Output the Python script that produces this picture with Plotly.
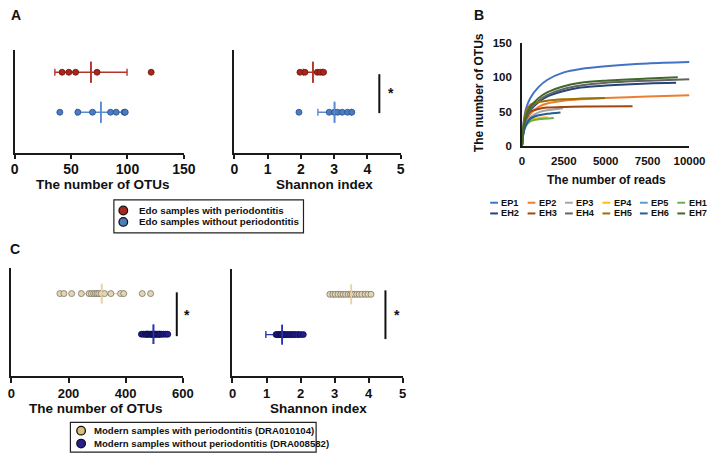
import plotly.graph_objects as go

W, H = 723, 460

# ---------------- data ----------------
groups_A = ["Edo samples with periodontitis", "Edo samples without periodontitis"]
groups_C = ["Modern samples with periodontitis (DRA010104)",
            "Modern samples without periodontitis (DRA008582)"]
cats = ["without", "with"]

# Panel A: number of OTUs
otu_A_with = [42, 48, 54, 73, 121]
otu_A_without = [40, 56, 69, 85, 90, 97, 98]
otu_A_mean = [67.6, 76.4]      # with, without
otu_A_sd = [32, 21.5]
# Panel A: Shannon index
shan_A_with = [1.97, 2.12, 2.49, 2.58, 2.68]
shan_A_without = [1.94, 2.85, 3.0, 3.1, 3.24, 3.4, 3.53]
shan_A_mean = [2.36, 3.01]
shan_A_sd = [0.29, 0.5]

# Panel C: number of OTUs
otu_C_with = [170, 184, 211, 245, 272, 280, 288, 294, 300, 306, 314, 326, 348, 382, 393, 458, 487]
otu_C_without = [455, 462, 468, 472, 476, 480, 484, 488, 490, 493, 496, 499, 502, 505, 508,
                 512, 516, 520, 526, 532, 540, 547]
otu_C_mean = [316, 497]
otu_C_sd = [75, 22]
# Panel C: Shannon index
shan_C_with = [2.86, 2.95, 3.02, 3.1, 3.18, 3.25, 3.32, 3.4, 3.47, 3.52, 3.58, 3.65, 3.72,
               3.8, 3.9, 3.98, 4.07]
shan_C_without = [1.28, 1.32, 1.36, 1.4, 1.43, 1.45, 1.48, 1.5, 1.55, 1.6, 1.65, 1.7, 1.75,
                  1.8, 1.85, 1.92, 2.0, 2.08]
shan_C_mean = [3.49, 1.46]
shan_C_sd = [0.35, 0.48]

# Panel B: rarefaction curves (reads, OTUs)
samples_B = ["EP1", "EP2", "EP3", "EP4", "EP5", "EH1", "EH2", "EH3", "EH4", "EH5", "EH6", "EH7"]
colors_B = ["#4472C4", "#ED7D31", "#A5A5A5", "#FFC000", "#5B9BD5", "#70AD47",
            "#264478", "#9E480E", "#636363", "#997300", "#255E91", "#43682B"]
reads_B = {
    "EP1": [0, 100, 250, 500, 1000, 1500, 2500, 3500, 5000, 7500, 10000],
    "EP2": [0, 100, 250, 500, 1000, 1500, 2500, 3500, 5000, 7500, 10000],
    "EP3": [0, 100, 250, 500, 1000, 1500, 2450],
    "EP4": [0, 100, 250, 500, 1000, 1550],
    "EP5": [0, 100, 250, 500, 900],
    "EH1": [0, 100, 250, 500, 1000, 1900],
    "EH2": [0, 100, 250, 500, 1000, 1500, 2500, 3500, 5000, 7500, 9200],
    "EH3": [0, 100, 250, 500, 1000, 1500, 2500, 4000, 6600],
    "EH4": [0, 100, 250, 500, 1000, 1500, 2500, 3500, 5000, 7500, 10000],
    "EH5": [0, 100, 250, 500, 1000, 1500, 2500, 3500, 4950],
    "EH6": [0, 100, 250, 500, 1000, 1500, 2300],
    "EH7": [0, 100, 250, 500, 1000, 1500, 2500, 3500, 5000, 7500, 9300],
}
otus_B = {
    "EP1": [0, 35, 55, 70, 86, 96, 107, 112, 116, 120, 122],
    "EP2": [0, 22, 35, 47, 57, 62, 66, 68, 70, 72, 74],
    "EP3": [0, 22, 33, 42, 49, 52, 55],
    "EP4": [0, 24, 33, 38, 41, 42],
    "EP5": [0, 22, 32, 40, 45],
    "EH1": [0, 22, 30, 36, 39, 41],
    "EH2": [0, 26, 40, 52, 64, 72, 80, 85, 88, 91, 92],
    "EH3": [0, 25, 40, 50, 54, 56, 57, 57.5, 58],
    "EH4": [0, 26, 40, 53, 66, 74, 83, 88, 92, 95, 97],
    "EH5": [0, 32, 50, 60, 64, 66, 68, 69, 70],
    "EH6": [0, 20, 31, 40, 45, 47, 49],
    "EH7": [0, 28, 44, 57, 70, 78, 87, 92, 95, 98, 100],
}
ticks_B_x = [0, 2500, 5000, 7500, 10000]
ticks_B_y = [0, 50, 100, 150]

FONT = "Liberation Sans, Arial, sans-serif"


def xp(px):
    return px / W


def yp(py):
    return 1 - py / H


fig = go.Figure()


def dot_panel(n, vals_with, vals_without, means, sds, styles, mean_len):
    xa, ya = ("x" if n == 1 else f"x{n}"), ("y" if n == 1 else f"y{n}")
    for cat, vals, m, s, st in [("with", vals_with, means[0], sds[0], styles[0]),
                                ("without", vals_without, means[1], sds[1], styles[1])]:
        fig.add_trace(go.Scatter(
            x=[m], y=[cat], xaxis=xa, yaxis=ya, mode="markers",
            marker=dict(symbol="line-ns", size=mean_len, line=dict(width=1.6, color=st["err"])),
            error_x=dict(type="data", array=[s], color=st["err"], thickness=1.4, width=3.5),
            hoverinfo="skip"))
        fig.add_trace(go.Scatter(
            x=vals, y=[cat] * len(vals), xaxis=xa, yaxis=ya, mode="markers",
            marker=dict(size=st["size"], color=st["fill"], line=dict(width=0.8, color=st["edge"]))))
        fig.add_trace(go.Scatter(
            x=[m], y=[cat], xaxis=xa, yaxis=ya, mode="markers",
            marker=dict(symbol="line-ns", size=mean_len, line=dict(width=1.6, color=st["err"])),
            hoverinfo="skip"))


styleA = [dict(fill="#a8261b", edge="#6e130c", err="#b2342a", size=6),
          dict(fill="#4a7cc0", edge="#2a4f8a", err="#5a8ad0", size=6)]
styleC = [dict(fill="#e2d6b4", edge="#7d7565", err="#e8d2a0", size=6),
          dict(fill="#221e8e", edge="#0d0c4a", err="#2a33b0", size=6)]

dot_panel(1, otu_A_with, otu_A_without, otu_A_mean, otu_A_sd, styleA, 15)
dot_panel(2, shan_A_with, shan_A_without, shan_A_mean, shan_A_sd, styleA, 15)
dot_panel(4, otu_C_with, otu_C_without, otu_C_mean, otu_C_sd, styleC, 14)
dot_panel(5, shan_C_with, shan_C_without, shan_C_mean, shan_C_sd, styleC, 14)

for name, col in zip(samples_B, colors_B):
    fig.add_trace(go.Scatter(x=reads_B[name], y=otus_B[name], xaxis="x3", yaxis="y3",
                             mode="lines", name=name,
                             line=dict(color=col, width=2, shape="spline", smoothing=0.8)))

AX = "#1a1a1a"


def xaxis_cfg(dom, rng, tv, fs, tl=4, tickcol=AX, standoff=0):
    return dict(domain=[xp(dom[0]), xp(dom[1])], range=rng, tickvals=tv,
                ticktext=[str(v) for v in tv], ticklabelstandoff=standoff,
                showline=True, linecolor=AX, linewidth=1.5, ticks="outside", ticklen=tl,
                tickwidth=1.5, tickcolor=tickcol, showgrid=False, zeroline=False,
                tickfont=dict(family=FONT, size=fs, color="#111", weight="bold"))


def ycat_cfg(dom, rng, anchor):
    return dict(domain=[yp(dom[1]), yp(dom[0])], range=rng, type="category",
                categoryorder="array", categoryarray=cats,
                showline=True, linecolor=AX, linewidth=1.5, ticks="", showticklabels=False,
                showgrid=False, zeroline=False, anchor=anchor)


layout = dict(
    width=W, height=H, autosize=False, margin=dict(l=0, r=0, t=0, b=0),
    paper_bgcolor="white", plot_bgcolor="white", showlegend=False,
    xaxis=dict(xaxis_cfg((11, 185), [0, 150], [0, 50, 100, 150], 14, standoff=-2), anchor="y"),
    yaxis=ycat_cfg((45, 151), [-1.02, 1.56], "x"),
    xaxis2=dict(xaxis_cfg((237, 408), [0, 5], [0, 1, 2, 3, 4, 5], 14, standoff=-2), anchor="y2"),
    yaxis2=ycat_cfg((45, 151), [-1.02, 1.56], "x2"),
    xaxis3=dict(xaxis_cfg((532.7, 705), [0, 10000], ticks_B_x, 11.5,
                          tl=3, tickcol="rgba(0,0,0,0)"), anchor="y3"),
    yaxis3=dict(domain=[yp(144), yp(37.7)], range=[0, 150], tickvals=ticks_B_y,
                ticktext=[str(v) for v in ticks_B_y],
                showline=True, linecolor=AX, linewidth=1.5, ticks="outside", ticklen=6,
                tickcolor="rgba(0,0,0,0)", showgrid=False, zeroline=False, anchor="x3",
                tickfont=dict(family=FONT, size=11.5, color="#111", weight="bold")),
    xaxis4=dict(xaxis_cfg((7.5, 184), [0, 600], [0, 200, 400, 600], 13, tl=5), anchor="y4"),
    yaxis4=ycat_cfg((269, 380), [-1.03, 1.63], "x4"),
    xaxis5=dict(xaxis_cfg((235, 410), [0, 5], [0, 1, 2, 3, 4, 5], 13, tl=5), anchor="y5"),
    yaxis5=ycat_cfg((270, 380), [-1.03, 1.63], "x5"),
)
fig.update_layout(**layout)

ann = []
shapes = []


def text(px, py, t, size, xanchor="center", angle=0):
    ann.append(dict(x=xp(px), y=yp(py), xref="paper", yref="paper", text=t, showarrow=False,
                    xanchor=xanchor, yanchor="middle", textangle=angle,
                    font=dict(family=FONT, size=size, color="#111", weight="bold")))


# panel letters
text(12, 9, "A", 14)
text(489, 9, "B", 14)
text(11, 249, "C", 14)

# axis titles
text(101.7, 183.5, "The number of OTUs", 13.5)
text(330, 183.5, "Shannon index", 13.5)
text(620, 179, "The number of reads", 12)
text(488, 89, "The number of OTUs", 12, angle=-90)
text(95, 413, "The number of OTUs", 13.5)
text(323, 413, "Shannon index", 13.5)


def line(x0, y0, x1, y1, w=2, col="#111"):
    shapes.append(dict(type="line", xref="paper", yref="paper", x0=xp(x0), y0=yp(y0),
                       x1=xp(x1), y1=yp(y1), line=dict(color=col, width=w)))


# significance bars
line(386, 70, 386, 110)
text(398, 89, "*", 14)
line(177.7, 294, 177.7, 339)
text(188, 317, "*", 14)
line(392.3, 292, 392.3, 342)
text(404, 317, "*", 14)

# legend A
shapes.append(dict(type="rect", xref="paper", yref="paper", x0=xp(113), x1=xp(308),
                   y0=yp(233), y1=yp(199), line=dict(color="#222", width=1.2)))
for i, (g, st) in enumerate(zip(groups_A, styleA)):
    cy = 210 + i * 11.7
    shapes.append(dict(type="circle", xref="paper", yref="paper", xsizemode="pixel",
                       ysizemode="pixel", xanchor=xp(122.7), yanchor=yp(cy),
                       x0=-4.3, x1=4.3, y0=-4.3, y1=4.3,
                       fillcolor=st["fill"], line=dict(color="#111", width=1.3)))
    text(136.7, cy, g, 9.8, xanchor="left")

# legend C
shapes.append(dict(type="rect", xref="paper", yref="paper", x0=xp(68.3), x1=xp(321),
                   y0=yp(458), y1=yp(427.5), line=dict(color="#222", width=1.2)))
legC_fill = ["#d8c07a", "#2a1f8f"]
for i, (g, fc) in enumerate(zip(groups_C, legC_fill)):
    cy = 436 + i * 13.3
    shapes.append(dict(type="circle", xref="paper", yref="paper", xsizemode="pixel",
                       ysizemode="pixel", xanchor=xp(79.3), yanchor=yp(cy),
                       x0=-4.3, x1=4.3, y0=-4.3, y1=4.3,
                       fillcolor=fc, line=dict(color="#111", width=1.3)))
    text(91, cy, g, 9.6, xanchor="left")

# legend B
for i, (name, col) in enumerate(zip(samples_B, colors_B)):
    row, colno = divmod(i, 6)
    lx = 500 + colno * 38.5
    ly = 202 + row * 11
    line(lx, ly, lx + 8, ly, w=2, col=col)
    text(lx + 9.5, ly, name, 9.2, xanchor="left")

fig.update_layout(annotations=ann, shapes=shapes)
fig.write_html(
    "out.html",
    config={"displayModeBar": False},
    post_script=("document.documentElement.style.margin='0';"
                 "document.documentElement.style.overflow='hidden';"
                 "document.body.style.margin='0';document.body.style.overflow='hidden';"),
)
